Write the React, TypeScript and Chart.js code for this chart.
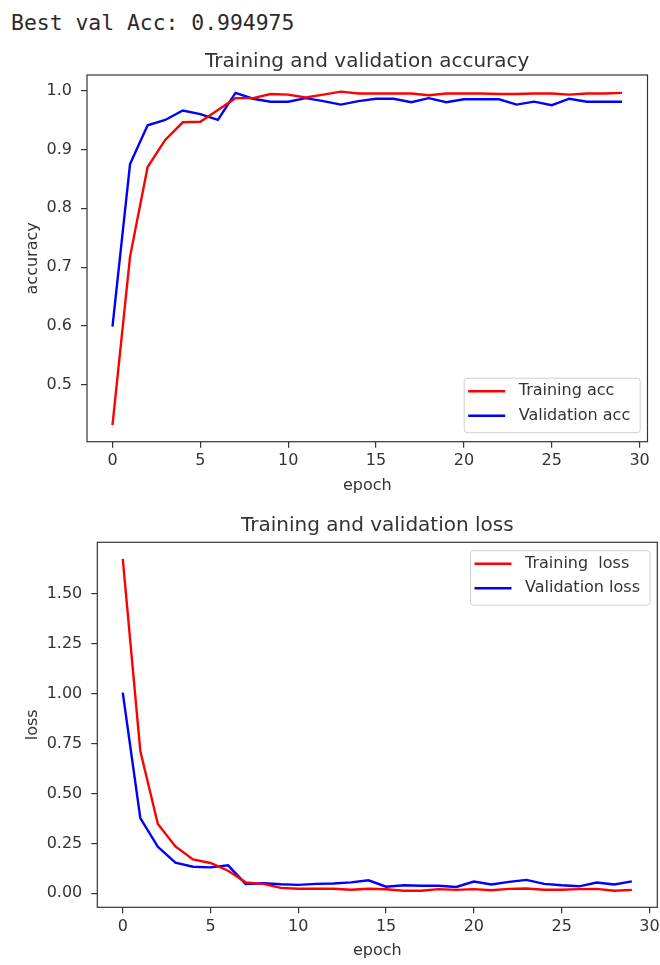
import React, { useEffect, useRef } from "react";
import { Chart, registerables } from "chart.js";

Chart.register(...registerables);

// ---------------- data ----------------
const headerText = "Best val Acc: 0.994975";

const epochs = [
  0, 1, 2, 3, 4, 5, 6, 7, 8, 9, 10, 11, 12, 13, 14, 15, 16, 17, 18, 19, 20, 21,
  22, 23, 24, 25, 26, 27, 28, 29,
];

const trainAcc = [
  0.432, 0.718, 0.87, 0.916, 0.946, 0.947, 0.967, 0.987, 0.987, 0.994, 0.993,
  0.988, 0.993, 0.998, 0.995, 0.995, 0.995, 0.995, 0.992, 0.995, 0.995, 0.995,
  0.994, 0.994, 0.995, 0.995, 0.993, 0.995, 0.995, 0.996,
];

const valAcc = [
  0.599, 0.875, 0.941, 0.95, 0.966, 0.96, 0.95, 0.996, 0.986, 0.981, 0.981,
  0.987, 0.982, 0.976, 0.982, 0.986, 0.986, 0.98, 0.987, 0.98, 0.985, 0.985,
  0.985, 0.976, 0.981, 0.975, 0.986, 0.981, 0.981, 0.981,
];

const trainLoss = [
  1.675, 0.713, 0.347, 0.235, 0.17, 0.152, 0.113, 0.055, 0.047, 0.027, 0.023,
  0.023, 0.023, 0.018, 0.023, 0.02, 0.013, 0.013, 0.021, 0.017, 0.021, 0.015,
  0.022, 0.024, 0.018, 0.018, 0.021, 0.022, 0.013, 0.017,
];

const valLoss = [
  1.005, 0.377, 0.233, 0.153, 0.133, 0.13, 0.14, 0.047, 0.05, 0.045, 0.042,
  0.047, 0.049, 0.055, 0.065, 0.033, 0.04, 0.038, 0.038, 0.032, 0.059, 0.044,
  0.057, 0.067, 0.047, 0.04, 0.035, 0.054, 0.044, 0.06,
];

const epochTicks = [0, 5, 10, 15, 20, 25, 30];
const accTicks = [0.5, 0.6, 0.7, 0.8, 0.9, 1.0];
const lossTicks = [0, 0.25, 0.5, 0.75, 1.0, 1.25, 1.5];

// ---------------- styling ----------------
const FONT = '"DejaVu Sans", Verdana, sans-serif';
const TEXT = "#333333";
const AXIS = "#333333";
const W = 660;
const LINE_W = 2.4;

function withMargins(values: number[]) {
  const lo = Math.min(...values);
  const hi = Math.max(...values);
  const pad = (hi - lo) * 0.05;
  return { min: lo - pad, max: hi + pad };
}

const framePlugin = {
  id: "mplFrame",
  afterDatasetsDraw(chart: any) {
    const { ctx, chartArea: a } = chart;
    ctx.save();
    ctx.strokeStyle = AXIS;
    ctx.lineWidth = 1.2;
    ctx.strokeRect(a.left, a.top, a.right - a.left, a.bottom - a.top);
    ctx.restore();
  },
};

const legendPlugin = {
  id: "mplLegend",
  afterDraw(chart: any, _args: any, opts: any) {
    const { ctx, chartArea: a } = chart;
    const items = chart.data.datasets.map((d: any) => ({
      label: d.label as string,
      color: d.borderColor as string,
    }));
    ctx.save();
    ctx.font = `16px ${FONT}`;
    const textW = Math.max(
      ...items.map((i: any) => ctx.measureText(i.label).width)
    );
    const w = 54.5 + textW + 10;
    const h = 54.5;
    const x = a.right - 7.3 - w;
    const y = opts.loc === "lower right" ? a.bottom - 9 - h : a.top + 8.4;
    ctx.beginPath();
    ctx.roundRect(x, y, w, h, 3);
    ctx.fillStyle = "rgba(255,255,255,0.8)";
    ctx.fill();
    ctx.strokeStyle = "#d0d0d0";
    ctx.lineWidth = 1;
    ctx.stroke();
    const rows = [13, 37.5];
    items.forEach((it: any, i: number) => {
      const cy = y + rows[i];
      ctx.beginPath();
      ctx.moveTo(x + 4, cy);
      ctx.lineTo(x + 41, cy);
      ctx.strokeStyle = it.color;
      ctx.lineWidth = LINE_W;
      ctx.stroke();
      ctx.fillStyle = TEXT;
      ctx.textBaseline = "middle";
      ctx.textAlign = "left";
      ctx.fillText(it.label, x + 54.5, cy);
    });
    ctx.restore();
  },
};

type Series = { label: string; values: number[]; color: string };
type PanelSpec = {
  top: number;
  height: number;
  areaLeft: number;
  areaRight: number;
  areaBottom: number;
  title: string;
  titlePadTop: number;
  titlePadBottom: number;
  yLabel: string;
  yTicks: number[];
  yDecimals: number;
  series: Series[];
  legendLoc: string;
};

function Panel({ spec }: { spec: PanelSpec }) {
  const ref = useRef<HTMLCanvasElement | null>(null);
  useEffect(() => {
    if (!ref.current) return;
    const yr = withMargins(spec.series.flatMap((s) => s.values));
    const xr = withMargins(epochs);
    const chart = new Chart(ref.current, {
      type: "line",
      data: {
        datasets: spec.series.map((s) => ({
          label: s.label,
          data: epochs.map((e, i) => ({ x: e, y: s.values[i] })),
          borderColor: s.color,
          backgroundColor: s.color,
          borderWidth: LINE_W,
          pointRadius: 0,
          tension: 0,
          fill: false,
        })),
      },
      options: {
        animation: false,
        responsive: false,
        devicePixelRatio: 1,
        layout: {
          padding: { left: 0, top: 0, bottom: 0, right: W - spec.areaRight },
        },
        plugins: {
          legend: { display: false },
          tooltip: { enabled: false },
          title: {
            display: true,
            text: spec.title,
            fullSize: false,
            color: TEXT,
            font: { family: FONT, size: 20, weight: "normal", lineHeight: 1.2 },
            padding: { top: spec.titlePadTop, bottom: spec.titlePadBottom },
          },
          mplLegend: { loc: spec.legendLoc },
        } as any,
        scales: {
          x: {
            type: "linear",
            bounds: "data",
            min: xr.min,
            max: xr.max,
            afterBuildTicks: (s: any) => {
              s.ticks = epochTicks.map((v) => ({ value: v }));
            },
            afterFit: (s: any) => {
              s.height = spec.height - spec.areaBottom;
              s.paddingLeft = 0;
              s.paddingRight = 0;
            },
            ticks: {
              color: TEXT,
              font: { family: FONT, size: 16 },
              padding: 4,
              maxRotation: 0,
              autoSkip: false,
              callback: (v: any) => String(v),
            },
            grid: {
              display: true,
              drawOnChartArea: false,
              drawTicks: true,
              tickLength: 6,
              color: AXIS,
              lineWidth: 1.2,
            },
            border: { display: false },
            title: {
              display: true,
              text: "epoch",
              color: TEXT,
              font: { family: FONT, size: 16 },
              padding: { top: 0, bottom: 4.4 },
            },
          },
          y: {
            type: "linear",
            bounds: "data",
            min: yr.min,
            max: yr.max,
            afterBuildTicks: (s: any) => {
              s.ticks = spec.yTicks.map((v) => ({ value: v }));
            },
            afterFit: (s: any) => {
              s.width = spec.areaLeft;
              s.paddingTop = 0;
              s.paddingBottom = 0;
            },
            ticks: {
              color: TEXT,
              font: { family: FONT, size: 16 },
              padding: 9,
              autoSkip: false,
              callback: (v: any) => Number(v).toFixed(spec.yDecimals),
            },
            grid: {
              display: true,
              drawOnChartArea: false,
              drawTicks: true,
              tickLength: 6,
              color: AXIS,
              lineWidth: 1.2,
            },
            border: { display: false },
            title: {
              display: true,
              text: spec.yLabel,
              color: TEXT,
              font: { family: FONT, size: 16 },
              padding: { top: 23, bottom: 0 },
            },
          },
        },
      } as any,
      plugins: [framePlugin, legendPlugin],
    });
    return () => chart.destroy();
  }, [spec]);
  return (
    <canvas
      ref={ref}
      width={W}
      height={spec.height}
      style={{
        position: "absolute",
        left: 0,
        top: spec.top,
        width: W,
        height: spec.height,
      }}
    />
  );
}

const accSpec: PanelSpec = {
  top: 40,
  height: 460,
  areaLeft: 87,
  areaRight: 647.5,
  areaBottom: 401.7,
  title: "Training and validation accuracy",
  titlePadTop: 9.5,
  titlePadBottom: 1.5,
  yLabel: "accuracy",
  yTicks: accTicks,
  yDecimals: 1,
  series: [
    { label: "Training acc", values: trainAcc, color: "#ff0000" },
    { label: "Validation acc", values: valAcc, color: "#0000ff" },
  ],
  legendLoc: "lower right",
};

const lossSpec: PanelSpec = {
  top: 500,
  height: 465,
  areaLeft: 97.3,
  areaRight: 657.3,
  areaBottom: 407.3,
  title: "Training and validation loss",
  titlePadTop: 14,
  titlePadBottom: 4.3,
  yLabel: "loss",
  yTicks: lossTicks,
  yDecimals: 2,
  series: [
    { label: "Training  loss", values: trainLoss, color: "#ff0000" },
    { label: "Validation loss", values: valLoss, color: "#0000ff" },
  ],
  legendLoc: "upper right",
};

export default function App() {
  return (
    <div
      style={{
        position: "absolute",
        left: 0,
        top: 0,
        width: W,
        height: 965,
        background: "#ffffff",
        overflow: "hidden",
      }}
    >
      <div
        style={{
          position: "absolute",
          left: 11,
          top: 11,
          font: '21.4px "DejaVu Sans Mono", monospace',
          lineHeight: "24px",
          color: "#2a2a2a",
          whiteSpace: "pre",
        }}
      >
        {headerText}
      </div>
      <Panel spec={accSpec} />
      <Panel spec={lossSpec} />
    </div>
  );
}
